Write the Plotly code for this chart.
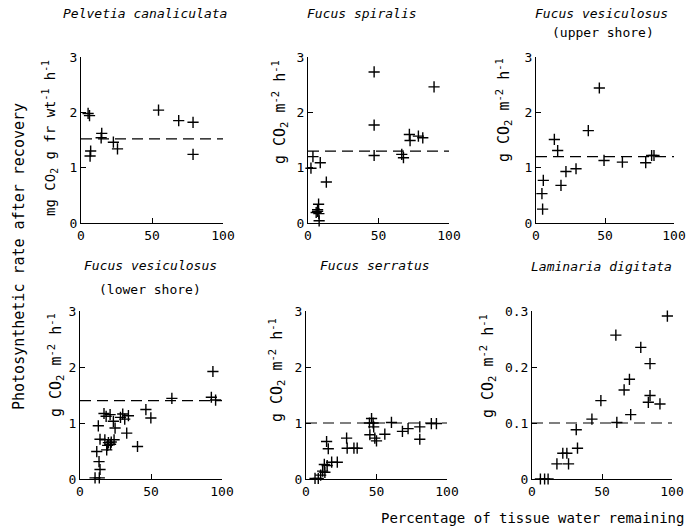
import plotly.graph_objects as go

# ---------------- data ----------------
pelvetia_x = [5.0, 6.0, 6.8, 6.4, 14.6, 14.2, 22.8, 25.7, 54.6, 68.8, 78.9, 78.9]
pelvetia_y = [1.98, 1.94, 1.30, 1.21, 1.62, 1.54, 1.46, 1.34, 2.04, 1.85, 1.82, 1.24]
pelvetia_ref = 1.52

spiralis_x = [46.9, 89.4, 46.9, 46.9, 66.5, 67.7, 71.9, 72.4, 78.3, 81.4,
              3.5, 2.1, 8.7, 13.0, 7.5, 6.8, 5.8, 7.7, 6.8, 7.9]
spiralis_y = [2.73, 2.46, 1.77, 1.22, 1.24, 1.18, 1.60, 1.49, 1.57, 1.54,
              1.20, 0.99, 1.09, 0.74, 0.34, 0.24, 0.19, 0.17, 0.21, 0.04]
spiralis_ref = 1.30

ves_upper_x = [4.8, 4.3, 5.3, 13.3, 15.7, 18.1, 21.7, 29.0, 37.9, 45.9, 49.3, 62.6, 79.5, 83.8, 85.5]
ves_upper_y = [0.25, 0.53, 0.77, 1.51, 1.31, 0.68, 0.93, 0.98, 1.67, 2.44, 1.13, 1.10, 1.09, 1.22, 1.22]
ves_upper_ref = 1.20

ves_lower_x = [93.6, 92.5, 95.5, 64.7, 46.4, 49.9, 40.5, 32.9, 34.1, 30.1, 31.5, 28.5,
               24.7, 23.5, 21.2, 18.4, 16.9, 12.9, 14.1, 17.5, 20.0, 22.0, 24.0, 19.5,
               21.5, 18.8, 11.8, 13.4, 14.1, 10.6, 13.6]
ves_lower_y = [1.92, 1.46, 1.41, 1.44, 1.24, 1.09, 0.58, 0.82, 1.13, 1.16, 1.07, 1.10,
               0.91, 1.03, 1.15, 1.12, 1.17, 0.95, 0.71, 0.70, 0.65, 0.66, 0.70, 0.60,
               0.62, 0.52, 0.49, 0.31, 0.17, 0.02, 0.02]
ves_lower_ref = 1.40

serratus_x = [6.4, 8.7, 10.4, 11.8, 13.4, 13.0, 15.0, 18.2, 22.2, 14.6, 15.8, 28.8, 29.2,
              34.0, 36.3, 45.0, 47.6, 46.5, 48.0, 45.3, 48.8, 50.0, 55.9, 60.6, 68.4,
              72.4, 80.7, 80.7, 88.9, 92.5]
serratus_y = [0.01, 0.01, 0.07, 0.14, 0.12, 0.26, 0.24, 0.30, 0.30, 0.67, 0.54, 0.73, 0.55,
              0.55, 0.55, 1.00, 1.00, 1.08, 0.93, 0.79, 0.73, 0.68, 0.80, 1.01, 0.85,
              0.90, 0.93, 0.71, 0.99, 0.99]
serratus_ref = 1.00

laminaria_x = [6.0, 9.0, 11.5, 17.8, 26.1, 22.0, 24.9, 32.5, 31.6, 42.8, 49.2, 60.6,
               59.9, 65.8, 69.6, 70.5, 77.7, 84.3, 84.3, 83.1, 91.4, 96.7]
laminaria_y = [0.0, 0.0, 0.0, 0.027, 0.027, 0.046, 0.046, 0.055, 0.088, 0.107, 0.14, 0.101,
               0.257, 0.159, 0.178, 0.115, 0.235, 0.206, 0.149, 0.137, 0.134, 0.291]
laminaria_ref = 0.10

x_ticks = [0, 50, 100]
y_ticks_std = [0, 1, 2, 3]
y_ticks_lam = [0, 0.1, 0.2, 0.3]

# ---------------- layout helpers ----------------
W, H = 694, 532
FONT = "DejaVu Sans Mono"

def xd(a, b):
    return [a / W, b / W]

def yd(top, bottom):
    return [1 - bottom / H, 1 - top / H]

panels = [
    dict(x=pelvetia_x, y=pelvetia_y, ref=pelvetia_ref, xdom=xd(81, 223), ydom=yd(57, 223),
         yr=[0, 3], yt=y_ticks_std, ytxt=["0", "1", "2", "3"]),
    dict(x=spiralis_x, y=spiralis_y, ref=spiralis_ref, xdom=xd(308, 449), ydom=yd(57, 223),
         yr=[0, 3], yt=y_ticks_std, ytxt=["0", "1", "2", "3"]),
    dict(x=ves_upper_x, y=ves_upper_y, ref=ves_upper_ref, xdom=xd(536, 674), ydom=yd(57, 223),
         yr=[0, 3], yt=y_ticks_std, ytxt=["0", "1", "2", "3"]),
    dict(x=ves_lower_x, y=ves_lower_y, ref=ves_lower_ref, xdom=xd(80, 222), ydom=yd(311, 479),
         yr=[0, 3], yt=y_ticks_std, ytxt=["0", "1", "2", "3"]),
    dict(x=serratus_x, y=serratus_y, ref=serratus_ref, xdom=xd(306, 447), ydom=yd(311, 479),
         yr=[0, 3], yt=y_ticks_std, ytxt=["0", "1", "2", "3"]),
    dict(x=laminaria_x, y=laminaria_y, ref=laminaria_ref, xdom=xd(532, 672), ydom=yd(311, 479),
         yr=[0, 0.3], yt=y_ticks_lam, ytxt=["0", "0.1", "0.2", "0.3"]),
]

fig = go.Figure()
layout = {}
for i, p in enumerate(panels):
    n = "" if i == 0 else str(i + 1)
    xa, ya = "x" + n, "y" + n
    fig.add_trace(go.Scatter(
        x=p["x"], y=p["y"], mode="markers", xaxis=xa, yaxis=ya, cliponaxis=False,
        marker=dict(symbol="cross-thin", size=8, color="black",
                    line=dict(width=1.4, color="black")),
        showlegend=False, hoverinfo="x+y"))
    fig.add_trace(go.Scatter(
        x=[x_ticks[0], x_ticks[-1]], y=[p["ref"], p["ref"]], mode="lines",
        xaxis=xa, yaxis=ya, cliponaxis=False,
        line=dict(color="black", width=1.2, dash="11px,6px"),
        showlegend=False, hoverinfo="skip"))
    layout["xaxis" + n] = dict(
        domain=p["xdom"], anchor=ya, range=[0, 100], tickvals=x_ticks,
        ticktext=[str(v) for v in x_ticks], ticks="inside", ticklen=5, tickwidth=1,
        tickcolor="black", showline=True, linecolor="black", linewidth=1,
        showgrid=False, zeroline=False, automargin=False,
        tickfont=dict(family=FONT, size=13, color="black"))
    layout["yaxis" + n] = dict(
        domain=p["ydom"], anchor=xa, range=p["yr"], tickvals=p["yt"],
        ticktext=p["ytxt"], ticks="inside", ticklen=5, tickwidth=1,
        tickcolor="black", showline=True, linecolor="black", linewidth=1,
        showgrid=False, zeroline=False, automargin=False,
        tickfont=dict(family=FONT, size=13, color="black"))

ann = []
def txt(x, y, s, size=13, angle=0, italic=False, xanchor="center"):
    ann.append(dict(x=x / W, y=1 - y / H, xref="paper", yref="paper", text=s,
                    showarrow=False, textangle=angle, xanchor=xanchor, yanchor="middle",
                    font=dict(family=FONT, size=size, color="black",
                              style="italic" if italic else "normal")))

# titles
txt(145, 14, "Pelvetia canaliculata", italic=True)
txt(362, 14, "Fucus spiralis", italic=True)
txt(601, 14, "Fucus vesiculosus", italic=True)
txt(603, 33, "(upper shore)")
txt(150, 265, "Fucus vesiculosus", italic=True)
txt(150, 289, "(lower shore)")
txt(375, 265, "Fucus serratus", italic=True)
txt(601, 266, "Laminaria digitata", italic=True)

# y labels
unit = "g CO<sub>2</sub> m<sup>-2</sup> h<sup>-1</sup>"
txt(50, 138, "mg CO<sub>2</sub> g fr wt<sup>-1</sup> h<sup>-1</sup>", size=14, angle=-90)
txt(279, 112, unit, size=15, angle=-90)
txt(504, 110, unit, size=15, angle=-90)
txt(55, 365, unit, size=15, angle=-90)
txt(276, 370, unit, size=15, angle=-90)
txt(487, 366, unit, size=15, angle=-90)

# overall labels
txt(19, 257, "Photosynthetic rate after recovery", size=15, angle=-90)
txt(686, 518, "Percentage of tissue water remaining", size=14, xanchor="right")

fig.update_layout(
    width=W, height=H, margin=dict(l=0, r=0, t=0, b=0),
    paper_bgcolor="white", plot_bgcolor="white",
    annotations=ann, **layout)

fig.write_html("out.html", config={"displayModeBar": False},
               post_script="document.body.style.margin='0';document.body.style.overflow='hidden';")
